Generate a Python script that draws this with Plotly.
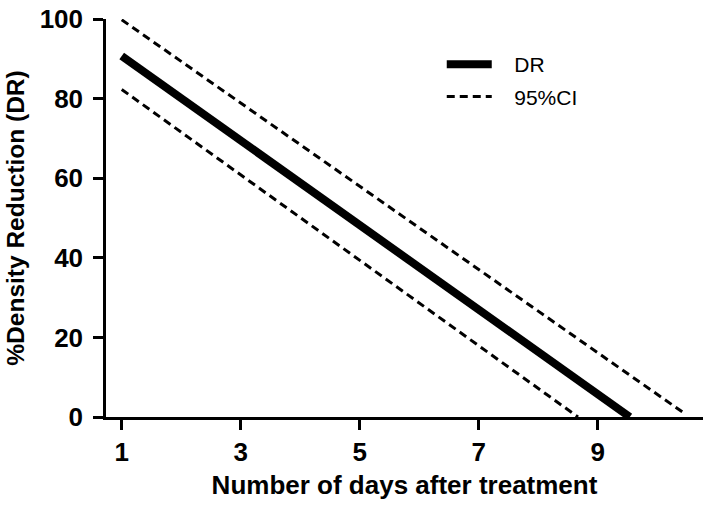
import plotly.graph_objects as go

# Data
days_dr = [1, 9.54]
dr = [90.7, 0]
days_ci_upper = [1, 10.43]
ci_upper = [99.8, 1.2]
days_ci_lower = [1, 8.67]
ci_lower = [82.3, 0]

x_ticks = [1, 3, 5, 7, 9]
y_ticks = [0, 20, 40, 60, 80, 100]

NB = "\u00a0\u00a0\u00a0"

fig = go.Figure()
fig.add_trace(go.Scatter(x=days_dr, y=dr, mode="lines", name=NB + "DR",
                         line=dict(color="black", width=8), legendgroup="a"))
fig.add_trace(go.Scatter(x=days_ci_upper, y=ci_upper, mode="lines", name=NB + "95%CI",
                         line=dict(color="black", width=3, dash="8px,5px"), legendgroup="b"))
fig.add_trace(go.Scatter(x=days_ci_lower, y=ci_lower, mode="lines", name=NB + "95%CI",
                         line=dict(color="black", width=3, dash="8px,5px"),
                         legendgroup="b", showlegend=False))

fam = "Liberation Sans, Arial, sans-serif"
tickfont = dict(family=fam, size=26, color="black", weight="bold")

fig.update_layout(
    width=711, height=508,
    margin=dict(l=106, r=8, t=19, b=91, autoexpand=False),
    paper_bgcolor="white", plot_bgcolor="white",
    showlegend=True,
    legend=dict(x=0.5624, y=0.937, xanchor="left", yanchor="top",
                bgcolor="rgba(0,0,0,0)", itemwidth=45,
                font=dict(family=fam, size=21, color="black"),
                tracegroupgap=2),
    xaxis=dict(range=[0.736, 10.77], tickvals=x_ticks, ticktext=[str(v) for v in x_ticks],
               automargin=False, ticklabeloverflow="allow", ticklabelstandoff=0,
               showgrid=False, zeroline=False, showline=True, linecolor="black", linewidth=2.5,
               ticks="outside", ticklen=10, tickwidth=2.5, tickcolor="black",
               tickfont=tickfont,
               title=dict(text="Number of days after treatment",
                          font=dict(family=fam, size=26, color="black", weight="bold"),
                          standoff=10)),
    yaxis=dict(range=[0, 100], tickvals=y_ticks, ticktext=[str(v) for v in y_ticks],
               automargin=False, ticklabeloverflow="allow", ticklabelstandoff=5,
               showgrid=False, zeroline=False, showline=True, linecolor="black", linewidth=2.5,
               ticks="outside", ticklen=10, tickwidth=2.5, tickcolor="black",
               tickfont=tickfont,
               title=dict(text="%Density Reduction (DR)",
                          font=dict(family=fam, size=24.5, color="black", weight="bold"),
                          standoff=9)),
)

fig.write_html("out.html", config={"displayModeBar": False},
               post_script="document.body.style.margin='0';")
